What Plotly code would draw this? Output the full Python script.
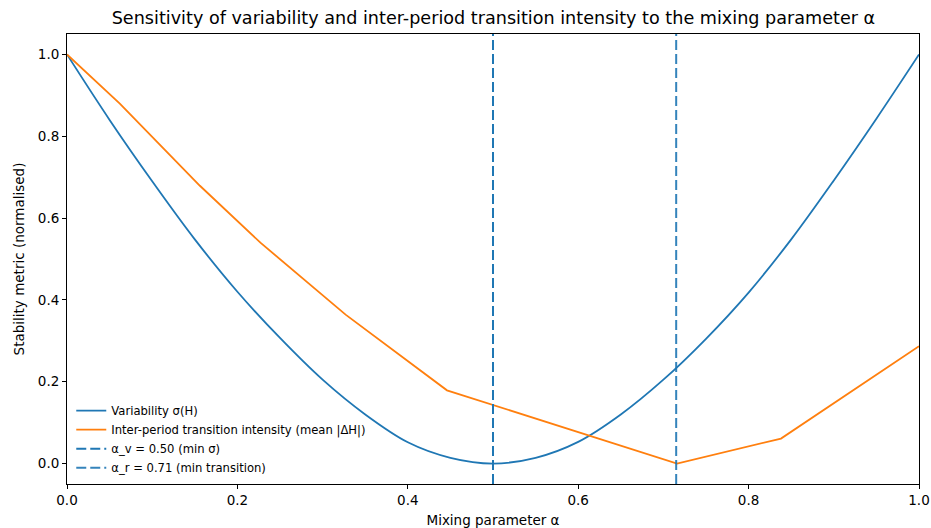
import plotly.graph_objects as go

# Variability sigma(H), normalised
alpha_sigma = [0.0, 0.05, 0.1, 0.15, 0.2, 0.25, 0.3, 0.35, 0.4, 0.45, 0.5,
               0.55, 0.6, 0.65, 0.7, 0.75, 0.8, 0.85, 0.9, 0.95, 1.0]
sigma_vals = [1.0, 0.84, 0.69, 0.548, 0.42, 0.307, 0.205, 0.12, 0.052, 0.014, 0.0,
              0.014, 0.053, 0.12, 0.205, 0.305, 0.418, 0.548, 0.692, 0.843, 1.0]

# Inter-period transition intensity (mean |dH|), normalised
alpha_trans = [0.0, 0.062, 0.156, 0.227, 0.327, 0.446, 0.716, 0.838, 1.0]
trans_vals = [1.0, 0.88, 0.679, 0.54, 0.364, 0.179, 0.0, 0.061, 0.287]

alpha_v = 0.50
alpha_r = 0.715
tick_vals = [0.0, 0.2, 0.4, 0.6, 0.8, 1.0]
tick_text = ["0.0", "0.2", "0.4", "0.6", "0.8", "1.0"]

C0 = "#1f77b4"
C1 = "#ff7f0e"
FONT = "DejaVu Sans"

fig = go.Figure()
fig.add_trace(go.Scatter(x=alpha_sigma, y=sigma_vals, mode="lines",
                         line=dict(color=C0, width=1.8, shape="spline", smoothing=1.0),
                         name="Variability σ(H)"))
fig.add_trace(go.Scatter(x=alpha_trans, y=trans_vals, mode="lines", line=dict(color=C1, width=1.8),
                         name="Inter-period transition intensity (mean |ΔH|)"))
fig.add_trace(go.Scatter(x=[alpha_v, alpha_v], y=[-0.05, 1.05], mode="lines",
                         line=dict(color=C0, width=2, dash="10px,4px"),
                         name="α_v = %.2f (min σ)" % alpha_v))
fig.add_trace(go.Scatter(x=[alpha_r, alpha_r], y=[-0.05, 1.05], mode="lines",
                         line=dict(color=C0, width=2, dash="10px,4px"), opacity=0.9,
                         name="α_r = %.2f (min transition)" % 0.71))

axis_common = dict(showgrid=False, zeroline=False, showline=True, linecolor="black", linewidth=1,
                   mirror=True, ticks="outside", ticklen=4, tickcolor="black", automargin=False,
                   tickfont=dict(family=FONT, size=13.5, color="black"))

fig.update_layout(
    width=931, height=528,
    autosize=False,
    margin=dict(l=67, r=12, t=34, b=44, autoexpand=False),
    paper_bgcolor="white", plot_bgcolor="white",
    font=dict(family=FONT, color="black"),
    title=dict(text="Sensitivity of variability and inter-period transition intensity to the mixing parameter α",
               x=0.53, xanchor="center", y=0.966, yanchor="middle", automargin=False,
               font=dict(family=FONT, size=17.6, color="black")),
    xaxis=dict(range=[0, 1], tickvals=tick_vals, ticktext=tick_text,
               title=dict(text="Mixing parameter α", font=dict(family=FONT, size=13.5), standoff=12), **axis_common),
    yaxis=dict(range=[-0.05, 1.05], tickvals=tick_vals, ticktext=tick_text,
               title=dict(text="Stability metric (normalised)", font=dict(family=FONT, size=13.5), standoff=10), **axis_common),
    legend=dict(x=0.005, y=0.004, xanchor="left", yanchor="bottom", bgcolor="rgba(255,255,255,0)",
                font=dict(family=FONT, size=11.6, color="black"), tracegroupgap=0, itemwidth=30),
    showlegend=True,
)

fig.write_html("out.html")
